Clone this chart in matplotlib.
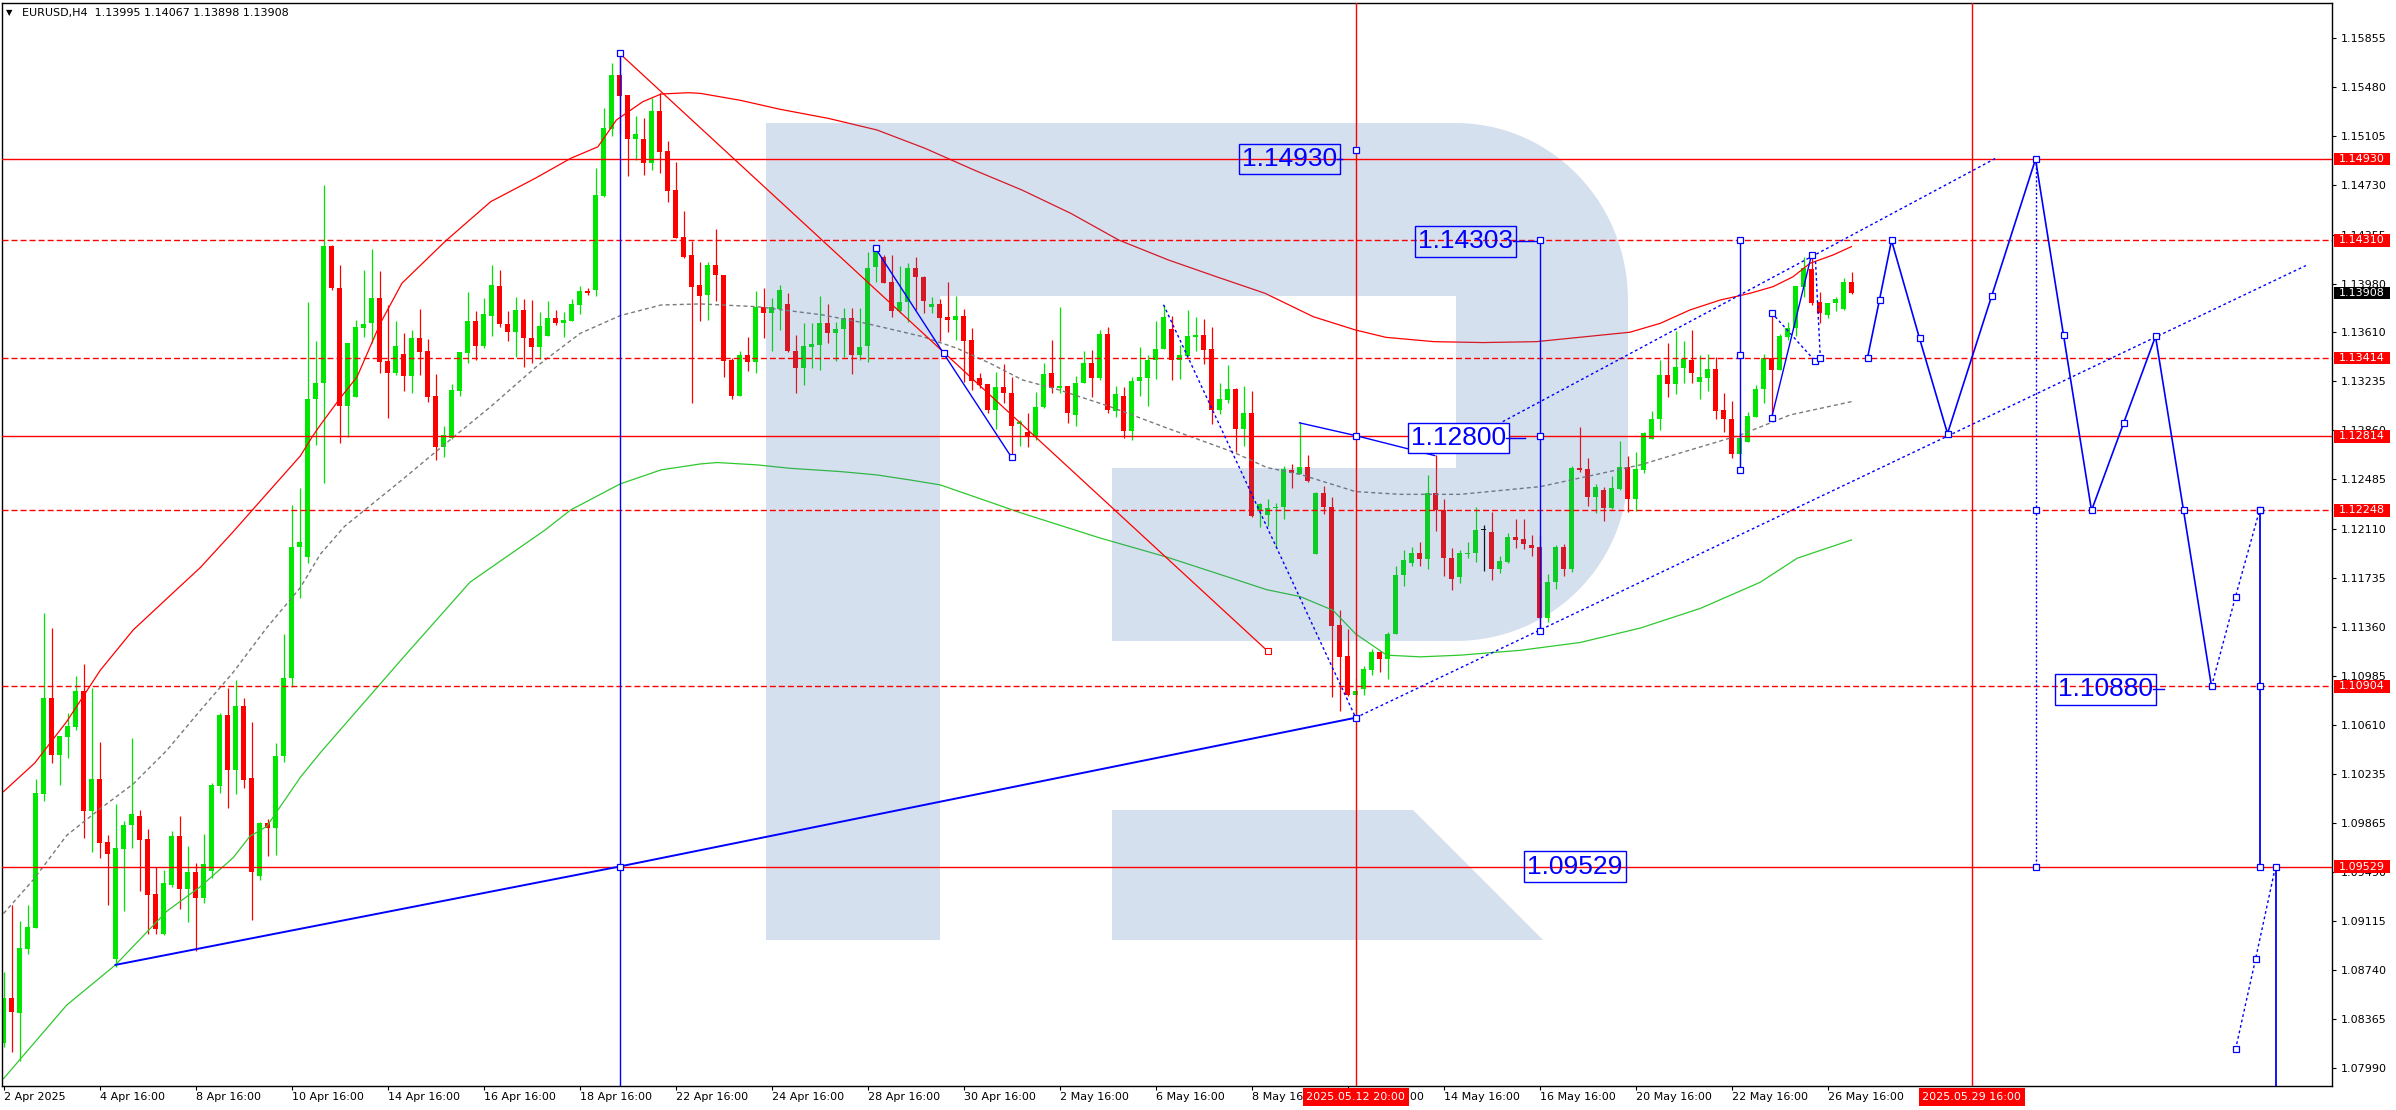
import numpy as np
import matplotlib
matplotlib.use("Agg")
import matplotlib.pyplot as plt
import matplotlib.transforms as mtransforms
from matplotlib.patches import Rectangle, Polygon

# ---------------- OHLC data (H4 bars, index 0..231) ----------------
opens = [1.08182,1.08523,1.08410,1.08898,1.09061,1.10084,1.10817,1.10380,1.10517,1.10595,
1.10868,1.09954,1.10196,1.09716,1.08823,1.09665,1.09845,1.09913,1.09740,1.09320,
1.09017,1.09385,1.09760,1.09358,1.09487,1.09290,1.09494,1.10142,1.10687,1.10268,
1.10755,1.10203,1.09453,1.09862,1.09825,1.10370,1.10970,1.11966,1.11891,1.13097,
1.13219,1.14268,1.13945,1.13049,1.13117,1.13644,1.13677,1.13873,1.13390,1.13301,
1.13443,1.13278,1.13563,1.13466,1.13123,1.12736,1.12799,1.13161,1.13453,1.13695,
1.13504,1.13736,1.13962,1.13672,1.13614,1.13779,1.13563,1.13499,1.13581,1.13718,
1.13682,1.13698,1.13820,1.13924,1.13932,1.14652,1.15161,1.15573,1.15418,1.15085,
1.15085,1.14899,1.15299,1.14993,1.14695,1.14339,1.14199,1.13970,1.13894,1.14120,
1.14046,1.13397,1.13122,1.13436,1.13385,1.13799,1.13759,1.13787,1.13825,1.13466,
1.13339,1.13499,1.13512,1.13682,1.13601,1.13631,1.13715,1.13436,1.13504,1.14110,
1.14181,1.13990,1.13774,1.13843,1.14097,1.14033,1.13804,1.13825,1.13723,1.13703,
1.13733,1.13550,1.13262,1.13211,1.13016,1.13189,1.13143,1.12906,1.12850,1.12812,
1.13036,1.13295,1.13181,1.13199,1.12977,1.13219,1.13377,1.13257,1.13596,1.13010,
1.13120,1.12852,1.13238,1.13259,1.13396,1.13483,1.13633,1.13399,1.13430,1.13575,
1.13588,1.13478,1.13017,1.13094,1.13175,1.12873,1.12989,1.12255,1.12216,1.12266,
1.12273,1.12555,1.12529,1.12581,1.11918,1.12379,1.12273,1.11374,1.11135,1.10841,
1.10888,1.11032,1.11164,1.11117,1.11301,1.11753,1.11845,1.11924,1.11879,1.12379,
1.12252,1.11884,1.11738,1.11916,1.11926,1.12099,1.12087,1.11799,1.11858,1.12043,
1.12028,1.11985,1.11972,1.11430,1.11700,1.11972,1.11800,1.12570,1.12563,1.12349,
1.12405,1.12265,1.12410,1.12578,1.12336,1.12557,1.12792,1.12944,1.13283,1.13214,
1.13339,1.13397,1.13232,1.13262,1.13326,1.13016,1.12944,1.12680,1.12774,1.12965,
1.13173,1.13410,1.13321,1.13575,1.13639,1.13957,1.14092,1.13838,1.13741,1.13830,
1.13787,1.13995]
highs = [1.08727,1.09238,1.09112,1.09238,1.10200,1.11465,1.11349,1.10527,1.10704,1.10984,
1.11076,1.10892,1.10479,1.09767,1.10005,1.09876,1.10507,1.09961,1.09818,1.09528,
1.09501,1.09801,1.09913,1.09682,1.09556,1.09774,1.10166,1.10704,1.10892,1.10950,
1.10817,1.10629,1.09869,1.09893,1.10476,1.11308,1.12289,1.12416,1.13843,1.13543,
1.14734,1.14275,1.14123,1.13525,1.13703,1.14085,1.14245,1.14077,1.13817,1.13695,
1.13606,1.13626,1.13787,1.13555,1.13291,1.12894,1.13214,1.13461,1.13919,1.13774,
1.13868,1.14123,1.14085,1.13774,1.13881,1.13861,1.13856,1.13766,1.13851,1.13779,
1.13766,1.13861,1.13965,1.13945,1.14861,1.15319,1.15662,1.15743,1.15418,1.15260,
1.15243,1.15395,1.15439,1.15072,1.14912,1.14535,1.14309,1.14143,1.14143,1.14397,
1.14046,1.13410,1.13466,1.13576,1.13924,1.13950,1.13868,1.13970,1.13906,1.13588,
1.13682,1.13682,1.13889,1.13825,1.13690,1.13797,1.13797,1.13797,1.14224,1.14250,
1.14199,1.14199,1.14115,1.14141,1.14186,1.14039,1.13876,1.13860,1.13990,1.13886,
1.13784,1.13639,1.13295,1.13211,1.13303,1.13367,1.13265,1.12939,1.12990,1.13150,
1.13377,1.13550,1.13804,1.13199,1.13275,1.13469,1.13474,1.13626,1.13647,1.13199,
1.13194,1.13267,1.13496,1.13436,1.13698,1.13819,1.13733,1.13509,1.13777,1.13725,
1.13712,1.13646,1.13225,1.13357,1.13186,1.13199,1.13159,1.12305,1.12339,1.12305,
1.12589,1.12602,1.12923,1.12668,1.12392,1.12431,1.12352,1.11485,1.11340,1.10972,
1.11064,1.11190,1.11175,1.11322,1.11821,1.11945,1.11971,1.12005,1.12515,1.12668,
1.12339,1.11963,1.11947,1.12010,1.12277,1.12137,1.12239,1.11901,1.12079,1.12181,
1.12181,1.12060,1.12056,1.11760,1.11985,1.11990,1.12588,1.12883,1.12647,1.12448,
1.12430,1.12512,1.12779,1.12664,1.12692,1.12850,1.13008,1.13397,1.13525,1.13621,
1.13542,1.13626,1.13435,1.13441,1.13418,1.13143,1.13084,1.12850,1.13003,1.13206,
1.13441,1.13753,1.13593,1.13685,1.13965,1.14181,1.14181,1.13919,1.13835,1.13876,
1.14021,1.14067]
lows = [1.08148,1.08114,1.08045,1.08863,1.09061,1.10033,1.10322,1.10152,1.10357,1.10568,
1.09750,1.09641,1.09596,1.09238,1.08761,1.09187,1.09671,1.09341,1.09017,1.09017,
1.09007,1.09375,1.09204,1.09109,1.08887,1.09249,1.09443,1.10091,1.09978,1.10084,
1.10125,1.09119,1.09426,1.09613,1.09620,1.10329,1.10899,1.11580,1.11846,1.12748,
1.12456,1.13932,1.12761,1.12812,1.13117,1.13576,1.13525,1.13301,1.12952,1.13283,
1.13163,1.13148,1.13283,1.13079,1.12634,1.12659,1.12792,1.13123,1.13377,1.13397,
1.13487,1.13581,1.13652,1.13545,1.13418,1.13347,1.13377,1.13403,1.13581,1.13665,
1.13576,1.13698,1.13749,1.13894,1.13886,1.14644,1.15108,1.15123,1.14805,1.14924,
1.14810,1.14848,1.14823,1.14606,1.14326,1.14174,1.13067,1.13695,1.13703,1.13850,
1.13270,1.13102,1.13122,1.13316,1.13301,1.13568,1.13466,1.13626,1.13456,1.13148,
1.13206,1.13334,1.13321,1.13525,1.13392,1.13423,1.13288,1.13397,1.13385,1.13995,
1.13983,1.13728,1.13753,1.13690,1.13779,1.13753,1.13753,1.13542,1.13614,1.13550,
1.13232,1.13168,1.13181,1.12990,1.12868,1.13066,1.12664,1.12743,1.12736,1.12786,
1.13028,1.13148,1.13143,1.12919,1.12896,1.13219,1.13112,1.13245,1.12990,1.12962,
1.12805,1.12786,1.13120,1.13049,1.13254,1.13483,1.13246,1.13254,1.13425,1.13462,
1.13364,1.12910,1.12983,1.13068,1.12694,1.12741,1.12200,1.12121,1.12129,1.11963,
1.12181,1.12418,1.12523,1.12465,1.11918,1.12221,1.10827,1.10717,1.10833,1.10670,
1.10841,1.10991,1.11012,1.10964,1.11301,1.11669,1.11821,1.11827,1.11800,1.12089,
1.11748,1.11643,1.11697,1.11883,1.11858,1.11789,1.11718,1.11769,1.11850,1.11959,
1.11952,1.11900,1.11327,1.11400,1.11650,1.11750,1.11780,1.12545,1.12285,1.12232,
1.12171,1.12257,1.12405,1.12234,1.12247,1.12537,1.12792,1.12863,1.13117,1.13138,
1.13224,1.13219,1.13099,1.13163,1.12944,1.12845,1.12652,1.12570,1.12774,1.12965,
1.13066,1.12965,1.13321,1.13550,1.13581,1.13881,1.13817,1.13682,1.13721,1.13774,
1.13779,1.13898]
closes = [1.08523,1.08420,1.08908,1.09068,1.10091,1.10817,1.10380,1.10527,1.10602,1.10868,
1.09954,1.10196,1.09706,1.09624,1.09671,1.09845,1.09927,1.09733,1.09313,1.09051,
1.09402,1.09760,1.09358,1.09487,1.09290,1.09552,1.10152,1.10687,1.10268,1.10755,
1.10193,1.09487,1.09862,1.09825,1.10374,1.10967,1.11966,1.12010,1.13097,1.13224,
1.14268,1.13945,1.13049,1.13525,1.13652,1.13670,1.13873,1.13385,1.13301,1.13504,
1.13278,1.13563,1.13461,1.13117,1.12736,1.12825,1.13168,1.13461,1.13695,1.13504,
1.13749,1.13970,1.13672,1.13614,1.13779,1.13563,1.13499,1.13657,1.13718,1.13682,
1.13703,1.13825,1.13922,1.13909,1.14657,1.15166,1.15573,1.15416,1.15085,1.15123,
1.14899,1.15299,1.14988,1.14690,1.14331,1.14186,1.13957,1.13889,1.14120,1.14046,
1.13392,1.13122,1.13436,1.13385,1.13799,1.13759,1.13799,1.13932,1.13466,1.13339,
1.13504,1.13519,1.13682,1.13601,1.13631,1.13715,1.13436,1.13499,1.14102,1.14224,
1.13988,1.13774,1.13843,1.14097,1.14028,1.13850,1.13825,1.13721,1.13703,1.13733,
1.13542,1.13239,1.13206,1.13016,1.13189,1.13148,1.12896,1.12921,1.12817,1.13036,
1.13288,1.13181,1.13199,1.12990,1.13219,1.13377,1.13257,1.13596,1.13016,1.13136,
1.12857,1.13233,1.13267,1.13396,1.13478,1.13725,1.13399,1.13436,1.13580,1.13583,
1.13475,1.13017,1.13102,1.13173,1.12873,1.12989,1.12208,1.12294,1.12266,1.12273,
1.12563,1.12536,1.12581,1.12476,1.12384,1.12273,1.11366,1.11130,1.10841,1.10872,
1.11038,1.11164,1.11117,1.11306,1.11753,1.11871,1.11924,1.11879,1.12379,1.12252,
1.11887,1.11727,1.11921,1.11926,1.12099,1.12099,1.11799,1.11865,1.12043,1.12023,
1.11990,1.11965,1.11430,1.11700,1.11972,1.11800,1.12570,1.12557,1.12349,1.12425,
1.12265,1.12418,1.12578,1.12336,1.12565,1.12842,1.12944,1.13283,1.13214,1.13341,
1.13405,1.13295,1.13265,1.13326,1.13010,1.12944,1.12680,1.12804,1.12970,1.13176,
1.13410,1.13321,1.13581,1.13639,1.13965,1.14102,1.13830,1.13754,1.13830,1.13860,
1.13990,1.13908]
doji_bars = [185]

# ---------------- axis labels ----------------
x_tick_bars = [0, 12, 24, 36, 48, 60, 72, 84, 96, 108, 120, 132, 144, 156, 168, 180, 192, 204, 216, 228]
x_tick_labels = ["2 Apr 2025", "4 Apr 16:00", "8 Apr 16:00", "10 Apr 16:00", "14 Apr 16:00",
                 "16 Apr 16:00", "18 Apr 16:00", "22 Apr 16:00", "24 Apr 16:00", "28 Apr 16:00",
                 "30 Apr 16:00", "2 May 16:00", "6 May 16:00", "8 May 16:00", "12 May 16:00",
                 "14 May 16:00", "16 May 16:00", "20 May 16:00", "22 May 16:00", "26 May 16:00"]
y_tick_vals = [1.15855, 1.15480, 1.15105, 1.14730, 1.14355, 1.13980, 1.13610, 1.13235, 1.12860,
               1.12485, 1.12110, 1.11735, 1.11360, 1.10985, 1.10610, 1.10235, 1.09865, 1.09490,
               1.09115, 1.08740, 1.08365, 1.07990]

# ---------------- levels ----------------
level_solid = [1.14930, 1.12814, 1.09529]
level_dashed = [1.14310, 1.13414, 1.12248, 1.10904]
level_tags = [1.14930, 1.14310, 1.13414, 1.12814, 1.12248, 1.10904, 1.09529]
current_price = 1.13908

# ---------------- band lines ----------------
upper_x = [0, 3.9, 7.9, 12.1, 16.2, 20.4, 24.6, 28.7, 32.9, 37.1, 38.6, 39.6, 41.9, 44.2, 47.1, 49.8,
           55.3, 60.9, 66.6, 70.9, 74.3, 76.6, 79.9, 82.2, 85.6, 87.1, 92.1, 97.1, 103.1, 109.2,
           115.2, 121.3, 127.3, 133.4, 139.4, 145.6, 151.6, 157.7, 163.7, 169, 172.8, 178.8, 184.9,
           191.6, 203.3, 207.1, 210.8, 214.6, 218.3, 221.2, 223.7, 225.8, 228.7, 231]
upper_y = [1.10101, 1.10319, 1.10636, 1.11028, 1.11335, 1.11574, 1.11812, 1.12085, 1.12375, 1.12664,
           1.12812, 1.12900, 1.13091, 1.13269, 1.13677, 1.13983, 1.14308, 1.14606, 1.14789, 1.14937,
           1.15025, 1.15229, 1.15369, 1.15428, 1.15438, 1.15433, 1.15380, 1.15311, 1.15242, 1.15153,
           1.15013, 1.14848, 1.14695, 1.14517, 1.14313, 1.14161, 1.14033, 1.13906, 1.13728, 1.13626,
           1.13570, 1.13537, 1.13530, 1.13537, 1.13609, 1.13677, 1.13779, 1.13855, 1.13906, 1.13957,
           1.14033, 1.14135, 1.14199, 1.14263]
mid_x = [0, 3.7, 7.9, 12.1, 16.2, 20.4, 24.6, 28.7, 32.9, 37.1, 39.6, 42.6, 49.8, 55.3, 60.9, 66.6,
         72.1, 77.1, 82.2, 87.1, 94.2, 102.4, 107.4, 110.8, 114.9, 119.2, 123.3, 127.4, 131.7, 138.3,
         145.4, 153.7, 157.9, 162.1, 169, 174.6, 182.1, 192.1, 204.6, 217.1, 223.3, 231]
mid_y = [1.09170, 1.09426, 1.09767, 1.09971, 1.10159, 1.10415, 1.10721, 1.11011, 1.11352, 1.11659,
         1.11914, 1.12125, 1.12481, 1.12761, 1.13041, 1.13346, 1.13601, 1.13736, 1.13817, 1.13825,
         1.13804, 1.13741, 1.13682, 1.13634, 1.13575, 1.13486, 1.13372, 1.13244, 1.13173, 1.13041,
         1.12878, 1.12694, 1.12576, 1.12523, 1.12392, 1.12371, 1.12371, 1.12430, 1.12596, 1.12824,
         1.12977, 1.13079]
lower_x = [0, 7.9, 14, 20.4, 24.6, 28.7, 30.8, 32.9, 37.1, 39.6, 49.6, 58.3, 67.7, 70.9, 77.1, 82.2,
           87.1, 89.2, 94.2, 98.3, 104.6, 109.2, 113.3, 117.1, 127.3, 137.1, 145.4, 153.7, 157.9,
           162.1, 166.2, 169, 172.9, 177.1, 182.1, 189.6, 197.1, 204.6, 212.1, 219.6, 224.2, 231]
lower_y = [1.07909, 1.08471, 1.08778, 1.09187, 1.09375, 1.09596, 1.09760, 1.09835, 1.10210, 1.10398,
           1.11100, 1.11700, 1.12099, 1.12252, 1.12451, 1.12558, 1.12603, 1.12614, 1.12596, 1.12570,
           1.12545, 1.12519, 1.12481, 1.12443, 1.12227, 1.12037, 1.11892, 1.11727, 1.11643, 1.11590,
           1.11485, 1.11306, 1.11143, 1.11130, 1.11143, 1.11180, 1.11240, 1.11350, 1.11500, 1.11700,
           1.11883, 1.12023]

# ---------------- drawn analysis objects ----------------
trend_long_x = [14, 77, 169];        trend_long_y = [1.08778, 1.09529, 1.10665]
chan_low_x = [169, 287.8];           chan_low_y = [1.10665, 1.14118]
chan_up_x = [187.4, 249.1];          chan_up_y = [1.12926, 1.14940]
red_diag_x = [77, 158];              red_diag_y = [1.15739, 1.11175]
blue_a_x = [109, 117.5, 126];        blue_a_y = [1.14250, 1.13448, 1.12654]
dot_b_x = [145, 169];                dot_b_y = [1.13819, 1.10669]
blue_c_x = [162, 169, 178.9];        blue_c_y = [1.12917, 1.12820, 1.12667]
vl192_y = [1.14313, 1.12817, 1.11327]
vl217_y = [1.14313, 1.13434, 1.12558]
blue_d_x = [221, 226];               blue_d_y = [1.12952, 1.14199]
dot_e_x = [221, 226.4];              dot_e_y = [1.13759, 1.13392]
dot_f_x = [226.5, 227.1];            dot_f_y = [1.14150, 1.13410]
forecast_x = [233, 234.5, 236, 239.5, 243, 248.5, 254, 257.5, 261, 265, 269, 272.5, 276]
forecast_y = [1.13414, 1.13858, 1.14310, 1.13562, 1.12835, 1.13882, 1.14930, 1.13587, 1.12248,
              1.12913, 1.13577, 1.12248, 1.10904]
dot_g_x = [276, 279, 282];           dot_g_y = [1.10904, 1.11590, 1.12248]
vl282_y = [1.12248, 1.10904, 1.09529]
dot_h_x = [279, 281.5, 284];         dot_h_y = [1.08132, 1.08821, 1.09529]
vl254_y = [1.14930, 1.12248, 1.09529]

label_texts = ["1.14930", "1.14303", "1.12800", "1.09529", "1.10880"]
label_x = [166.7, 188.7, 187.8, 202.4, 268.7]
label_y = [1.14930, 1.14302, 1.12799, 1.09529, 1.10881]
label_fill = ["none", "none", "white", "none", "none"]

# ---------------- figure ----------------
W, H = 2396, 1110
PL, PR, PT, PB = 2, 2332, 3, 1086
fig = plt.figure(figsize=(W / 100, H / 100), dpi=100)
fig.patch.set_facecolor("white")
ax = fig.add_axes([PL / W, 1 - PB / H, (PR - PL) / W, (PB - PT) / H])
X0, X1 = -0.19, 291.06
Y0, Y1 = 1.07853, 1.16123
ax.set_xlim(X0, X1)
ax.set_ylim(Y0, Y1)
ax.set_facecolor("white")
ppx = (X1 - X0) / (PR - PL)      # bar units per pixel
ppy = (Y1 - Y0) / (PB - PT)      # price units per pixel

GREEN = "#00e600"
RED = "#ff0000"
BLUE = "#0000ff"

# candles
n = len(opens)
xs = np.arange(n)
o = np.array(opens); h = np.array(highs); l = np.array(lows); c = np.array(closes)
cols = [("black" if i in doji_bars else (GREEN if c[i] >= o[i] else RED)) for i in range(n)]
ax.vlines(xs, l, h, colors=cols, linewidth=0.9, zorder=2)
bottoms = np.minimum(o, c)
heights = np.maximum(np.abs(c - o), 1.3 * ppy)
ax.bar(xs, heights, bottom=bottoms, width=0.62, color=cols, linewidth=0, zorder=2.1)

# band lines
ax.plot(upper_x, upper_y, color=RED, lw=0.9, zorder=2.2)
ax.plot(mid_x, mid_y, color="#7a7a7a", lw=1.0, ls=(0, (2.9, 2.2)), zorder=2.2)
ax.plot(lower_x, lower_y, color="#2ec82e", lw=0.9, zorder=2.2)

# watermark "R" (semi-transparent overlay, pixel coordinates from top-left)
T = mtransforms.Affine2D().scale(1, -1).translate(0, H)
t1 = np.linspace(0, np.pi / 2, 30)
arc_top = [(1456 + 172 * np.sin(t), 300 - 177 * np.cos(t)) for t in t1]
arc_bot = [(1456 + 172 * np.cos(t), 470 + 171 * np.sin(t)) for t in t1]
outline = [(766, 123)] + arc_top + arc_bot + [(1112, 641), (1112, 468), (1456, 468), (1456, 296),
                                              (940, 296), (940, 940), (766, 940)]
leg = [(1112, 810), (1413, 810), (1543, 940), (1112, 940)]
for pts in (outline, leg):
    ax.add_patch(Polygon(pts, closed=True, transform=T, facecolor="#4472b6", alpha=0.22,
                         edgecolor="none", zorder=2.5))

# levels
for lv in level_solid:
    ax.axhline(lv, color=RED, lw=1.0, zorder=3)
for lv in level_dashed:
    ax.axhline(lv, color=RED, lw=1.0, ls=(0, (4.3, 2.2)), zorder=3)
ax.axvline(169, color=RED, lw=1.0, zorder=3)
ax.axvline(246, color=RED, lw=1.0, zorder=3)

# analysis lines
ax.plot(red_diag_x, red_diag_y, color=RED, lw=0.9, zorder=3.2)
ax.plot([red_diag_x[1]], [red_diag_y[1]], marker="s", ms=4, mfc="white", mec=RED, mew=0.8, zorder=6)
ax.plot(trend_long_x, trend_long_y, color=BLUE, lw=1.4, zorder=4)
ax.plot(chan_low_x, chan_low_y, color=BLUE, lw=1.0, ls=(0, (2, 2)), zorder=4)
ax.plot(chan_up_x, chan_up_y, color=BLUE, lw=1.0, ls=(0, (2, 2)), zorder=4)
ax.plot(blue_a_x, blue_a_y, color=BLUE, lw=1.0, zorder=4)
ax.plot(dot_b_x, dot_b_y, color=BLUE, lw=1.0, ls=(0, (2, 2)), zorder=4)
ax.plot(blue_c_x, blue_c_y, color=BLUE, lw=1.0, zorder=4)
ax.plot([192, 192], [vl192_y[0], vl192_y[-1]], color=BLUE, lw=1.0, zorder=4)
ax.plot([217, 217], [vl217_y[0], vl217_y[-1]], color=BLUE, lw=1.0, zorder=4)
ax.plot(blue_d_x, blue_d_y, color=BLUE, lw=1.0, zorder=4)
ax.plot(dot_e_x, dot_e_y, color=BLUE, lw=1.0, ls=(0, (2, 2)), zorder=4)
ax.plot(dot_f_x, dot_f_y, color=BLUE, lw=1.0, ls=(0, (2, 2)), zorder=4)
ax.plot(forecast_x, forecast_y, color=BLUE, lw=1.2, zorder=4)
ax.plot(dot_g_x, dot_g_y, color=BLUE, lw=1.0, ls=(0, (2, 2)), zorder=4)
ax.plot([282, 282], [vl282_y[0], vl282_y[-1]], color=BLUE, lw=1.3, zorder=4)
ax.plot(dot_h_x, dot_h_y, color=BLUE, lw=1.0, ls=(0, (2, 2)), zorder=4)
ax.plot([284, 284], [dot_h_y[-1], Y0], color=BLUE, lw=1.3, zorder=4)
ax.plot([254, 254], [vl254_y[0], vl254_y[-1]], color=BLUE, lw=1.0, ls=(0, (1.5, 1.5)), zorder=4)
ax.plot([77, 77], [red_diag_y[0], Y0], color=BLUE, lw=1.0, zorder=4)

sq = dict(ls="none", marker="s", ms=4, mfc="white", mec=BLUE, mew=0.9, zorder=6)
ax.plot([77, 77, 169], [red_diag_y[0], trend_long_y[1], trend_long_y[2]], **sq)
ax.plot(blue_a_x, blue_a_y, **sq)
ax.plot([blue_c_x[1]], [blue_c_y[1]], **sq)
ax.plot([192] * 3, vl192_y, **sq)
ax.plot([217] * 3, vl217_y, **sq)
ax.plot(blue_d_x, blue_d_y, **sq)
ax.plot(dot_e_x, dot_e_y, **sq)
ax.plot([dot_f_x[1]], [dot_f_y[1]], **sq)
ax.plot(forecast_x, forecast_y, **sq)
ax.plot(dot_g_x[1:], dot_g_y[1:], **sq)
ax.plot([282] * 3, vl282_y, **sq)
ax.plot(dot_h_x, dot_h_y, **sq)
ax.plot([254] * 2, vl254_y[1:], **sq)
ax.plot([169], [1.15000], **sq)

# blue price labels
for s, lx, ly, fc in zip(label_texts, label_x, label_y, label_fill):
    ax.text(lx, ly, s, ha="right", va="center", fontsize=19, family="Liberation Sans", color=BLUE,
            bbox=dict(boxstyle="square,pad=0.12", fc=fc, ec=BLUE, lw=1.0), zorder=7)
ax.plot([166.7, 167.3], [1.14930, 1.14930], color=BLUE, lw=1.0, zorder=7)
ax.plot([188.7, 191.5], [1.14303, 1.14303], color=BLUE, lw=1.0, zorder=7)
ax.plot([187.8, 190.2], [1.12800, 1.12800], color=BLUE, lw=1.0, zorder=7)
ax.plot([268.7, 270.0], [1.10881, 1.10881], color=BLUE, lw=1.0, zorder=7)

# ---------------- axes styling ----------------
for sp in ax.spines.values():
    sp.set_color("black"); sp.set_linewidth(1.0)
ax.yaxis.tick_right()
ax.set_yticks(y_tick_vals, [f"{v:.5f}" for v in y_tick_vals])
ax.tick_params(axis="y", direction="out", length=3, width=0.8, pad=3, labelsize=8, colors="black")
ax.set_xticks(x_tick_bars, x_tick_labels)
for lab in ax.get_xticklabels():
    lab.set_ha("left")
ax.tick_params(axis="x", direction="out", length=3, width=0.8, pad=1.5, labelsize=8, colors="black")

# right-axis level tags
bt = mtransforms.blended_transform_factory(ax.transAxes, ax.transData)
bx0 = (2334 - PL) / (PR - PL); bw = 56 / (PR - PL)
for lv in level_tags + [current_price]:
    fc = "black" if lv == current_price else RED
    ax.add_patch(Rectangle((bx0, lv - 6.2 * ppy), bw, 12.4 * ppy, transform=bt, facecolor=fc,
                           edgecolor="none", clip_on=False, zorder=9))
    ax.text((2339 - PL) / (PR - PL), lv, f"{lv:.5f}", transform=bt, ha="left", va="center",
            fontsize=8, color="white", clip_on=False, zorder=10)

# x-axis date tags
bt2 = mtransforms.blended_transform_factory(ax.transData, ax.transAxes)
for bx, s in [(169, "2025.05.12 20:00"), (246, "2025.05.29 16:00")]:
    ax.add_patch(Rectangle((bx - 53 * ppx, -(1106 - PB) / (PB - PT)), 106 * ppx, 18 / (PB - PT),
                           transform=bt2, facecolor=RED, edgecolor="none", clip_on=False, zorder=9))
    ax.text(bx, -(1097 - PB) / (PB - PT), s, transform=bt2, ha="center", va="center", fontsize=8,
            color="white", clip_on=False, zorder=10)

# title
fig.text(6 / W, 1 - 13 / H, "\u25BC", fontsize=6, va="center", ha="left", color="black")
fig.text(22 / W, 1 - 13 / H, "EURUSD,H4  1.13995 1.14067 1.13898 1.13908", fontsize=8,
         va="center", ha="left", color="black")

fig.savefig("out.png", dpi=100, facecolor="white")
